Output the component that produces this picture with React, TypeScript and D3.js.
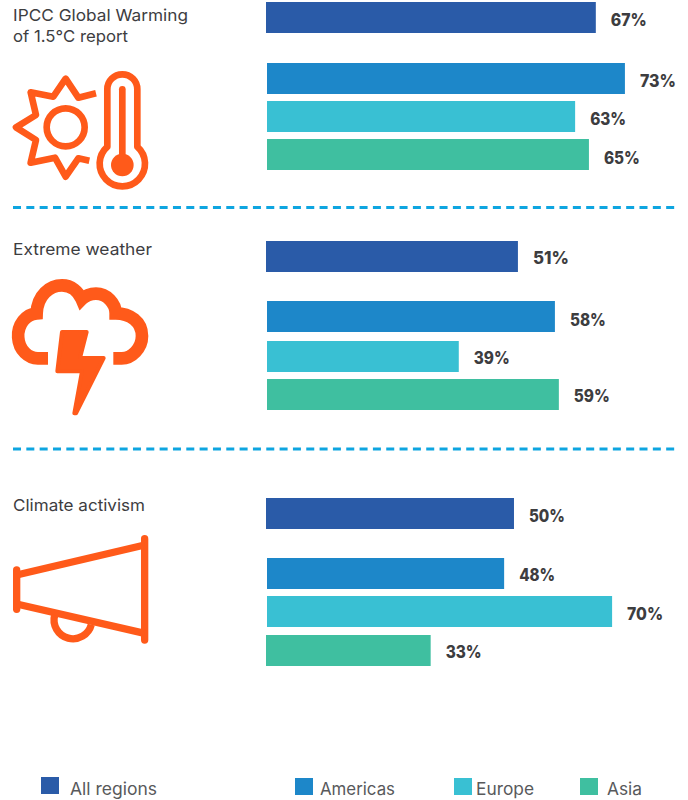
import React from "react";
import * as d3 from "d3";

const sections = ["IPCC Global Warming|of 1.5°C report", "Extreme weather", "Climate activism"];
const titleWidths = [[175, 115], [139], [132]];
const regions = ["All regions", "Americas", "Europe", "Asia"];
// The printed labels are these rounded.
const allRegions = [66.9, 51.1, 50.3];
const americas = [72.6, 58.4, 48.1];
const europe = [62.5, 38.9, 70];
const asia = [65.3, 59.2, 33.4];
const seriesValues = [allRegions, americas, europe, asia];
const colors = ["#2a5ba8", "#1d87c9", "#39c0d3", "#3fbfa0"];

const barTops = [
  [2, 63, 101, 139],
  [241, 301, 341, 379],
  [498, 558, 596, 635],
];
const labelBaselines = [
  [26, 87, 125, 164],
  [264, 326, 364, 402],
  [522, 581, 620, 658],
];
const titleY = [[21, 42], [255], [511]];
const dividers = [207.5, 449];
const legendSwatch = [41, 295, 454, 580];
const legendText = [70, 320, 476, 607];
const legendTextWidth = [87, 75, 58, 35];
const ORANGE = "#ff5a1a";
const FONT = "Inter, Lato, sans-serif";

const x = d3.scaleLinear().domain([0, 100]).range([0, 493]);

function SunIcon() {
  return (
    <g transform="scale(0.3333)" fill="none" stroke={ORANGE} strokeWidth={20} strokeLinejoin="round">
      <circle cx={197} cy={382} r={57} />
      <path d="M288 280 L235 293 L197 236 L160 290 L92 277 L108 345 L48 382 L108 420 L92 488 L165 473 L197 530 L235 475 L268 482" />
      <path d="M322 440 V268 A45 45 0 0 1 412 268 V440 A68 68 0 1 1 322 440 Z" />
      <path d="M367 268 V495" strokeLinecap="round" />
      <circle cx={367} cy={495} r={34} fill={ORANGE} stroke="none" />
    </g>
  );
}

function CloudIcon() {
  return (
    <g transform="translate(0,230) scale(0.3333)">
      <path
        d="M144 385 H118 A59 67 0 0 1 110 250 C112 195 150 166 186 166 C215 166 235 185 245 208 C258 195 275 191 288 191 C320 191 347 220 347 250 C390 250 426 275 426 318 C426 355 395 385 365 385 H340"
        fill="none" stroke={ORANGE} strokeWidth={38}
      />
      <path
        d="M186 306 H260 L240 384 H311 L228 550 L223 550 L246 424 H172 Z"
        fill={ORANGE} stroke={ORANGE} strokeWidth={12} strokeLinejoin="round"
      />
    </g>
  );
}

function MegaphoneIcon() {
  return (
    <g transform="translate(0,490) scale(0.3333)" fill="none" stroke={ORANGE} strokeWidth={22} strokeLinecap="round">
      <path d="M50 240 V358" />
      <path d="M434 146 V450" />
      <path d="M50 255 L434 165" strokeLinecap="butt" />
      <path d="M50 342 L434 430" strokeLinecap="butt" />
      <path d="M164 375 A56 56 0 0 0 274 404" strokeLinecap="butt" />
    </g>
  );
}

const icons = [SunIcon, CloudIcon, MegaphoneIcon];

export default function App() {
  return (
    <svg
      width={688}
      height={800}
      viewBox="0 0 688 800"
      style={{ position: "absolute", left: 0, top: 0, background: "#fff" }}
      fontFamily={FONT}
    >
      {sections.map((title, s) => {
        const Icon = icons[s];
        return (
          <g key={s}>
            {title.split("|").map((line, i) => (
              <text
                key={i}
                x={13}
                y={titleY[s][i]}
                fontSize={16.5}
                fill="#3d3d3f"
                textLength={titleWidths[s][i]}
                lengthAdjust="spacingAndGlyphs"
              >
                {line}
              </text>
            ))}
            <Icon />
            {regions.map((r, k) => {
              const v = seriesValues[k][s];
              const x0 = k === 0 || (s === 2 && k === 3) ? 266 : 267;
              return (
                <g key={r}>
                  <rect x={x0} y={barTops[s][k]} width={x(v)} height={31} fill={colors[k]} />
                  <text
                    x={x0 + x(v) + 15}
                    y={labelBaselines[s][k]}
                    fontSize={17}
                    fontWeight={800}
                    fill="#3d3d3f"
                    textLength={36}
                    lengthAdjust="spacingAndGlyphs"
                  >
                    {`${Math.round(v)}%`}
                  </text>
                </g>
              );
            })}
          </g>
        );
      })}
      {dividers.map((y) => (
        <line key={y} x1={13} x2={675} y1={y} y2={y} stroke="#0ea5e0" strokeWidth={3} strokeDasharray="8 5.33" />
      ))}
      {regions.map((r, k) => (
        <g key={r}>
          <rect x={legendSwatch[k]} y={k === 0 ? 777 : 778} width={18} height={17} fill={colors[k]} />
          <text
            x={legendText[k]}
            y={795}
            fontSize={17}
            fill="#58595b"
            textLength={legendTextWidth[k]}
            lengthAdjust="spacingAndGlyphs"
          >
            {r}
          </text>
        </g>
      ))}
    </svg>
  );
}
